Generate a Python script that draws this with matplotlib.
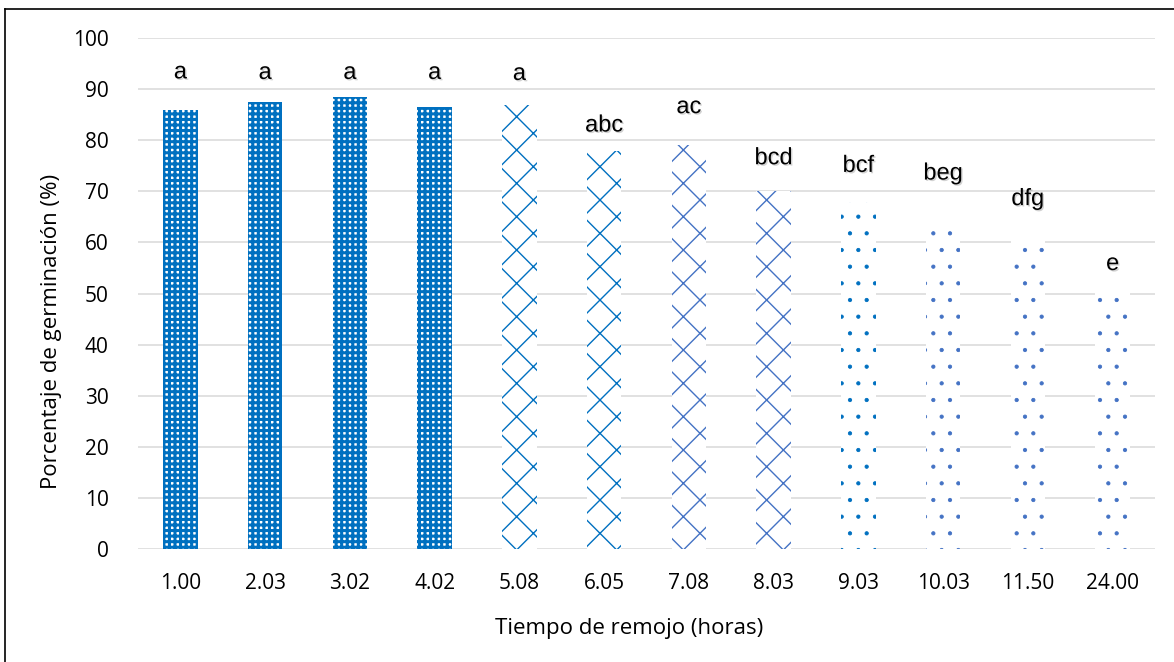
import matplotlib
matplotlib.use("Agg")
import matplotlib.pyplot as plt
import matplotlib.patheffects as pe
from matplotlib.lines import Line2D

# ---- data ----
categories = ["1.00", "2.03", "3.02", "4.02", "5.08", "6.05", "7.08",
              "8.03", "9.03", "10.03", "11.50", "24.00"]
germination = [85.9, 87.4, 88.4, 86.4, 86.9, 77.9, 79.1, 70.1, 68.0, 63.8, 61.0, 51.0]
letters = ["a", "a", "a", "a", "a", "abc", "ac", "bcd", "bcf", "beg", "dfg", "e"]
letter_y = [92.1, 92.0, 92.0, 92.0, 91.8, 81.7, 85.3, 75.3, 73.8, 72.3, 67.3, 54.6]
yticks = [0, 10, 20, 30, 40, 50, 60, 70, 80, 90, 100]

# ---- styles ----
BLUE = "#0070C0"
BLUE2 = "#4472C4"
bar_colors = [BLUE, BLUE, BLUE, BLUE, BLUE, BLUE, BLUE2, BLUE2, BLUE, BLUE2, BLUE2, BLUE2]
hatches = ["+++"] * 4 + ["x"] * 4 + ["."] * 4
hatch_lw = [2.2] * 4 + [1.0] * 4 + [0.6] * 4
FONT = "Open Sans"

W, H = 1174, 662
fig = plt.figure(figsize=(W / 100, H / 100), dpi=100)
ax = fig.add_axes([138 / W, (H - 549) / H, (1155 - 138) / W, (549 - 38) / H])

x = list(range(len(categories)))
for i in x:
    with plt.rc_context({"hatch.linewidth": hatch_lw[i]}):
        bars = ax.bar(x[i], germination[i], width=0.41, facecolor="white",
                      edgecolor=bar_colors[i], linewidth=0, hatch=hatches[i], zorder=2)
    for b in bars:
        if hasattr(b, "set_hatch_linewidth"):
            b.set_hatch_linewidth(hatch_lw[i])

for i in x:
    ax.text(x[i], letter_y[i], letters[i], ha="center", va="baseline",
            fontsize=17, family="Liberation Sans", color="black", zorder=3,
            path_effects=[pe.withSimplePatchShadow(offset=(1, -1), shadow_rgbFace="gray", alpha=0.35)])

ax.set_xlim(-0.5, len(categories) - 0.5)
ax.set_ylim(0, 100)
ax.set_yticks(yticks)
ax.set_xticks(x)
ax.set_xticklabels(categories)
ax.grid(axis="y", color="#D9D9D9", linewidth=1.1, zorder=0)
ax.set_axisbelow(True)
for s in ax.spines.values():
    s.set_visible(False)
ax.tick_params(axis="both", length=0, labelsize=15, colors="black")
ax.tick_params(axis="y", pad=21)
ax.tick_params(axis="x", pad=17)
for lab in ax.get_xticklabels() + ax.get_yticklabels():
    lab.set_family(FONT)

ax.set_ylabel("Porcentaje de germinación (%)", fontsize=16, family=FONT, va="center")
ax.yaxis.set_label_coords(-0.0855, 0.4266)
ax.set_xlabel("Tiempo de remojo (horas)", fontsize=16, family=FONT, va="center")
ax.xaxis.set_label_coords(0.4833, -0.1546)

# outer border (left and top visible)
fig.add_artist(Line2D([5 / W, 5 / W], [0, 1 - 9 / H], transform=fig.transFigure,
                      color="black", linewidth=1.2))
fig.add_artist(Line2D([5 / W, 1], [1 - 9 / H, 1 - 9 / H], transform=fig.transFigure,
                      color="black", linewidth=1.2))

fig.savefig("out.png", dpi=100, facecolor="white")
